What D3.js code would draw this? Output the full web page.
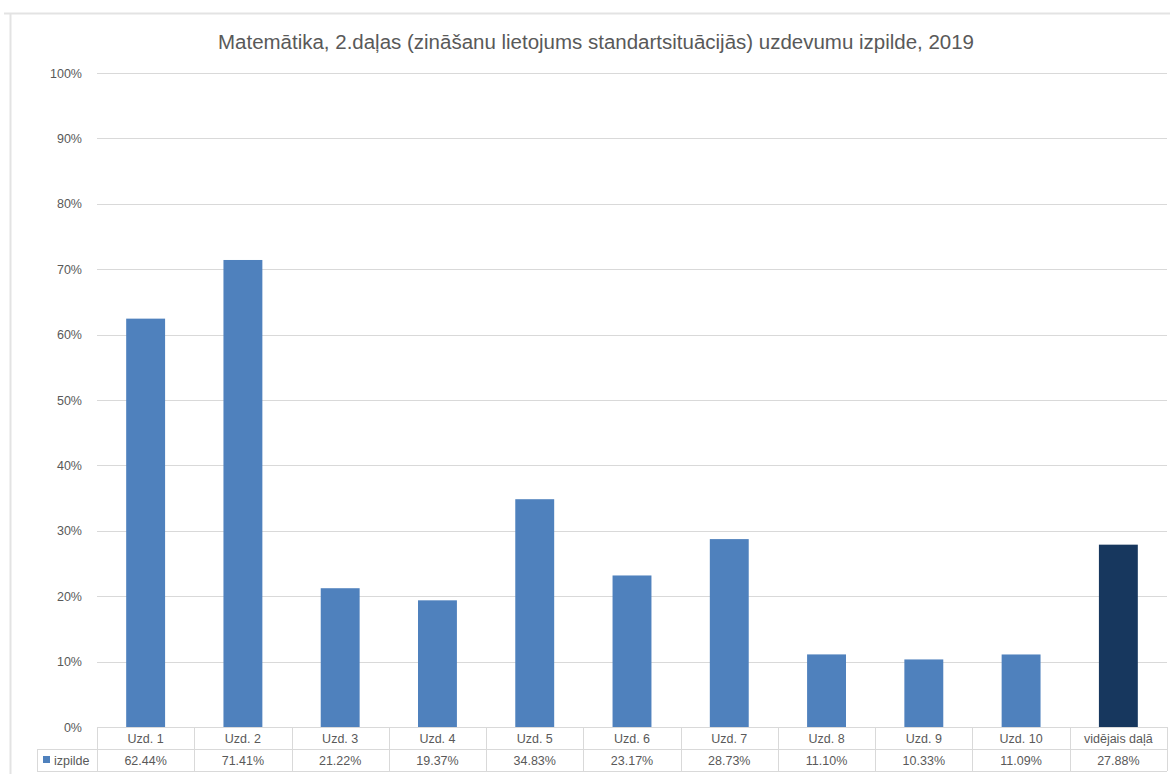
<!DOCTYPE html>
<html>
<head>
<meta charset="utf-8">
<script src="https://cdn.jsdelivr.net/npm/d3@7"></script>
<style>
  body { margin: 0; background: #fff; }
  svg { display: block; font-family: "Liberation Sans", Arial, sans-serif; }
</style>
</head>
<body>
<div id="chart"></div>
<script>
// data
var categories = ["Uzd. 1", "Uzd. 2", "Uzd. 3", "Uzd. 4", "Uzd. 5", "Uzd. 6", "Uzd. 7", "Uzd. 8", "Uzd. 9", "Uzd. 10", "vidējais daļā"];
var values = [62.44, 71.41, 21.22, 19.37, 34.83, 23.17, 28.73, 11.10, 10.33, 11.09, 27.88];
var yTicks = [0, 10, 20, 30, 40, 50, 60, 70, 80, 90, 100];
var seriesName = "izpilde";
var title = "Matemātika, 2.daļas (zināšanu lietojums standartsituācijās) uzdevumu izpilde, 2019";

var width = 1170, height = 774;
var margin = {top: 73, left: 97, right: 3, bottom: 47};
var textColor = "#595959", gridColor = "#d9d9d9";

var svg = d3.select("#chart").append("svg")
    .attr("width", width)
    .attr("height", height);

// chart frame
svg.append("line").attr("x1", 4).attr("x2", width).attr("y1", 13.5).attr("y2", 13.5)
    .attr("stroke", "#e3e3e3").attr("stroke-width", 2);
svg.append("line").attr("x1", 10.5).attr("x2", 10.5).attr("y1", 13).attr("y2", height)
    .attr("stroke", "#e3e3e3").attr("stroke-width", 2);

svg.append("text")
    .attr("x", 596).attr("y", 49)
    .attr("text-anchor", "middle")
    .attr("font-size", 19.5)
    .attr("textLength", 756)
    .attr("lengthAdjust", "spacingAndGlyphs")
    .attr("fill", textColor)
    .text(title);

var x = d3.scaleBand()
    .domain(categories)
    .range([margin.left, width - margin.right])
    .paddingInner(0.6)
    .paddingOuter(0.3);

var y = d3.scaleLinear()
    .domain([0, 100])
    .range([727, margin.top]);

// gridlines
svg.append("g")
    .selectAll("line")
    .data(yTicks)
    .join("line")
    .attr("x1", margin.left).attr("x2", width - margin.right)
    .attr("y1", d => Math.round(y(d)) + 0.5).attr("y2", d => Math.round(y(d)) + 0.5)
    .attr("stroke", gridColor);

// y axis labels
var yAxis = d3.axisLeft(y).tickValues(yTicks).tickSize(0).tickPadding(15)
    .tickFormat(d => d + "%");
var gy = svg.append("g").attr("transform", "translate(" + margin.left + ",0)").call(yAxis);
gy.select(".domain").remove();
gy.selectAll("text").attr("fill", textColor).attr("font-size", 12.5)
    .attr("font-family", "Liberation Sans, Arial, sans-serif");

// bars
svg.append("g")
    .selectAll("rect")
    .data(values)
    .join("rect")
    .attr("x", (d, i) => x(categories[i]))
    .attr("width", x.bandwidth())
    .attr("y", d => y(d))
    .attr("height", d => y(0) - y(d))
    .attr("fill", (d, i) => i == values.length - 1 ? "#17375e" : "#4f81bd");

// data table
var step = x.step();
var edges = categories.map((c, i) => margin.left + i * step);
edges.push(width - margin.right);
var row1 = 727, row2 = 749, row3 = 771;
var tbl = svg.append("g").attr("stroke", gridColor).attr("fill", "none");
tbl.append("line").attr("x1", margin.left).attr("x2", width - margin.right).attr("y1", row1 + 0.5).attr("y2", row1 + 0.5);
tbl.append("line").attr("x1", 37).attr("x2", width - margin.right).attr("y1", row2 + 0.5).attr("y2", row2 + 0.5);
tbl.append("line").attr("x1", 37).attr("x2", width - margin.right).attr("y1", row3 + 0.5).attr("y2", row3 + 0.5);
tbl.append("line").attr("x1", 37.5).attr("x2", 37.5).attr("y1", row2).attr("y2", row3);
tbl.selectAll(".v").data(edges).join("line")
    .attr("x1", d => Math.round(d) + 0.5).attr("x2", d => Math.round(d) + 0.5)
    .attr("y1", row1).attr("y2", row3);

svg.append("g").selectAll("text").data(categories).join("text")
    .attr("x", d => x(d) + x.bandwidth() / 2)
    .attr("y", (row1 + row2) / 2 + 4.5)
    .attr("text-anchor", "middle")
    .attr("font-size", 12.5)
    .attr("fill", textColor)
    .text(d => d);

svg.append("g").selectAll("text").data(values).join("text")
    .attr("x", (d, i) => x(categories[i]) + x.bandwidth() / 2)
    .attr("y", (row2 + row3) / 2 + 4.5)
    .attr("text-anchor", "middle")
    .attr("font-size", 12.5)
    .attr("fill", textColor)
    .text(d => d.toFixed(2) + "%");

// legend key in the table
svg.append("rect").attr("x", 43).attr("y", 756).attr("width", 7).attr("height", 7).attr("fill", "#4f81bd");
svg.append("text").attr("x", 54).attr("y", 764.5).attr("font-size", 12.5).attr("fill", textColor).text(seriesName);
</script>
</body>
</html>
